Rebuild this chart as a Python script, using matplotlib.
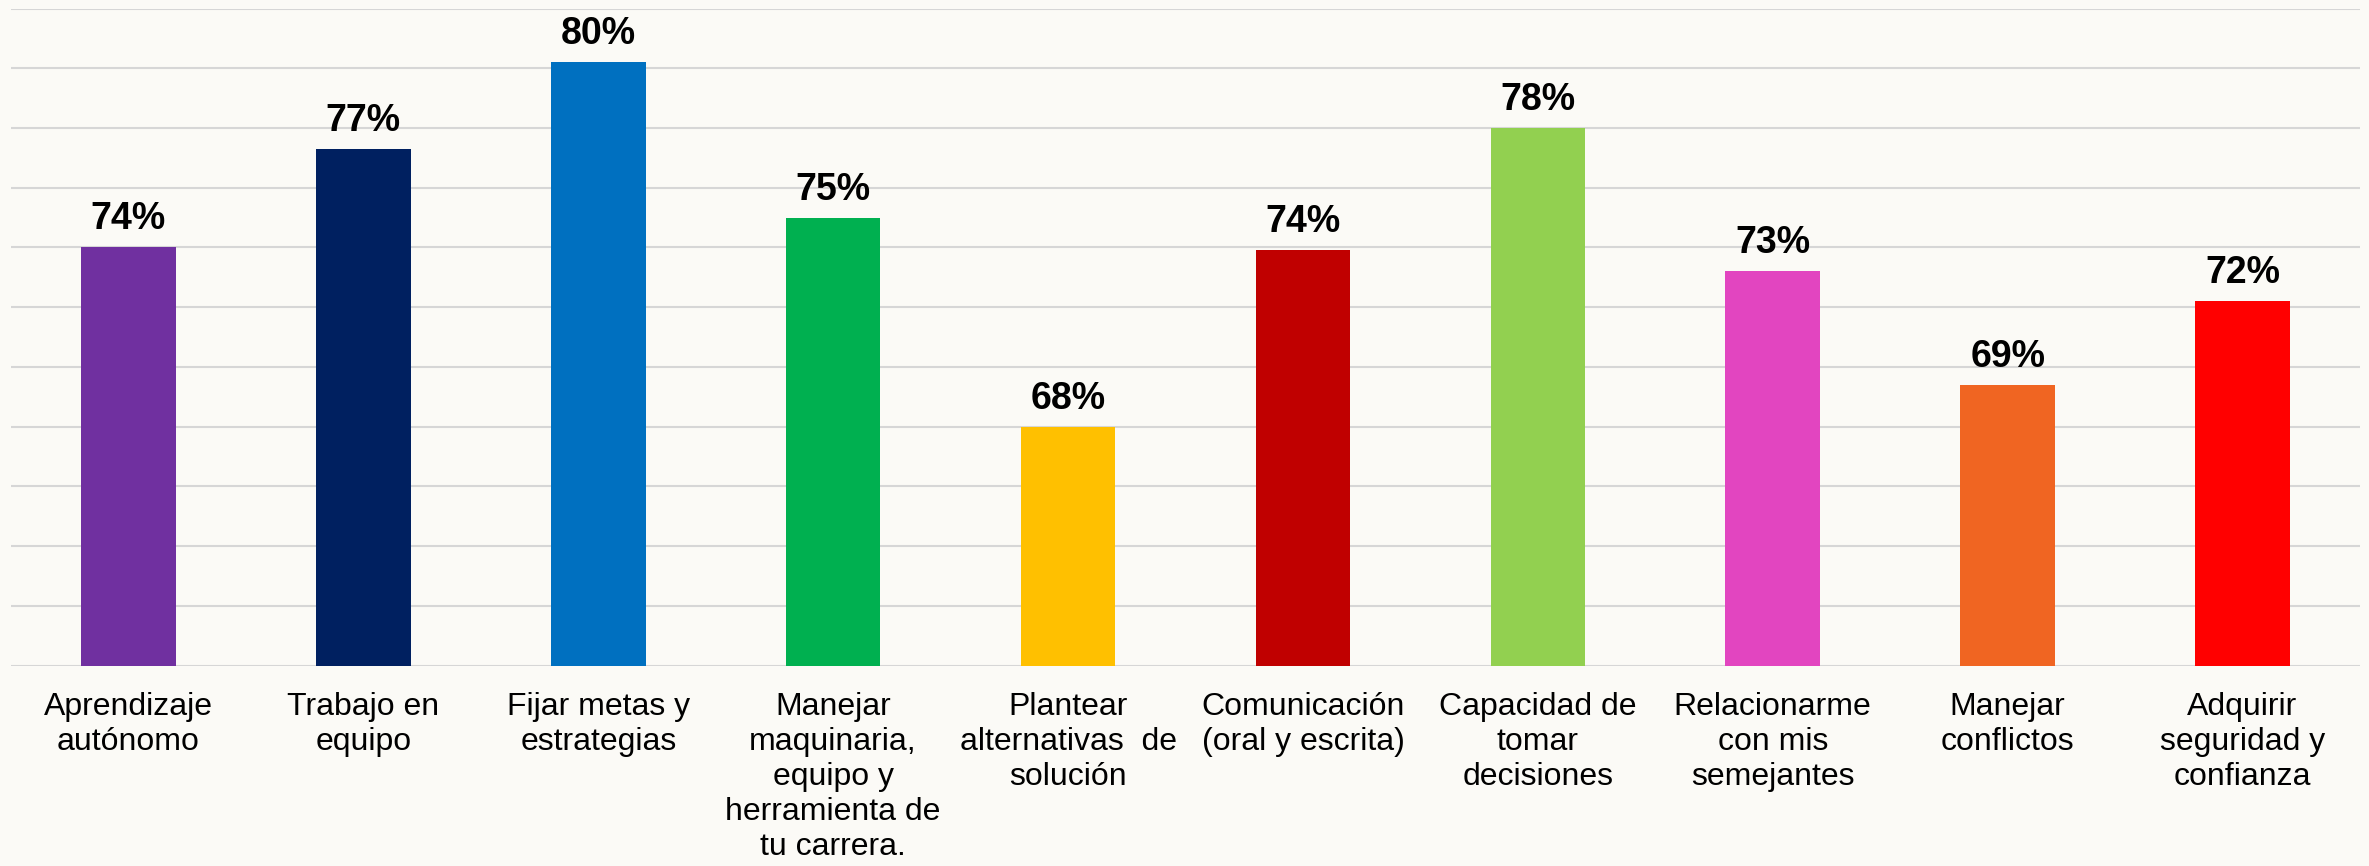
import matplotlib
matplotlib.use("Agg")
import matplotlib.pyplot as plt
import numpy as np

categories = [
    "Aprendizaje\nautónomo",
    "Trabajo en\nequipo",
    "Fijar metas y\nestrategias",
    "Manejar\nmaquinaria,\nequipo y\nherramienta de\ntu carrera.",
    "Plantear\nalternativas  de\nsolución",
    "Comunicación\n(oral y escrita)",
    "Capacidad de\ntomar\ndecisiones",
    "Relacionarme\ncon mis\nsemejantes",
    "Manejar\nconflictos",
    "Adquirir\nseguridad y\nconfianza",
]
values = [74.0, 77.3, 80.2, 75.0, 68.0, 73.9, 78.0, 73.2, 69.4, 72.2]
value_labels = ["74%", "77%", "80%", "75%", "68%", "74%", "78%", "73%", "69%", "72%"]
colors = ["#7030A0", "#002060", "#0070C0", "#00B050", "#FFC000",
          "#C00000", "#92D050", "#E245C0", "#F06522", "#FF0000"]
y_ticks = list(range(60, 84, 2))

W, H = 2369, 866
fig = plt.figure(figsize=(W / 100, H / 100), dpi=100)
bg = "#FBFAF6"
fig.patch.set_facecolor(bg)

left, right = 11 / W, 2360 / W
bottom, top = (H - 665.7) / H, (H - 8.5) / H
ax = fig.add_axes([left, bottom, right - left, top - bottom])
ax.set_facecolor(bg)

x = np.arange(len(categories))
ax.set_xlim(-0.5, len(categories) - 0.5)
ax.set_ylim(60, 82)
ax.set_yticks(y_ticks)
ax.yaxis.grid(True, color="#D6D6D6", linewidth=1.5, zorder=0)
ax.set_axisbelow(True)

bars = ax.bar(x, values, width=0.403, color=colors, zorder=2)

for xi, v, lab in zip(x, values, value_labels):
    ax.annotate(lab, (xi, v), xytext=(0, 13), textcoords="offset points",
                ha="center", va="baseline", fontsize=27, fontweight="bold",
                family=["Liberation Sans", "DejaVu Sans"], color="black",
                annotation_clip=False)

ax.set_xticks(x)
ax.set_xticklabels(categories, fontsize=23, family=["Liberation Sans", "DejaVu Sans"],
                   linespacing=1.22, ha="center", va="top")
ax.tick_params(axis="x", length=0, pad=19)
ax.tick_params(axis="y", length=0, labelleft=False)
for s in ax.spines.values():
    s.set_visible(False)

fig.savefig("out.png", dpi=100, facecolor=bg)
